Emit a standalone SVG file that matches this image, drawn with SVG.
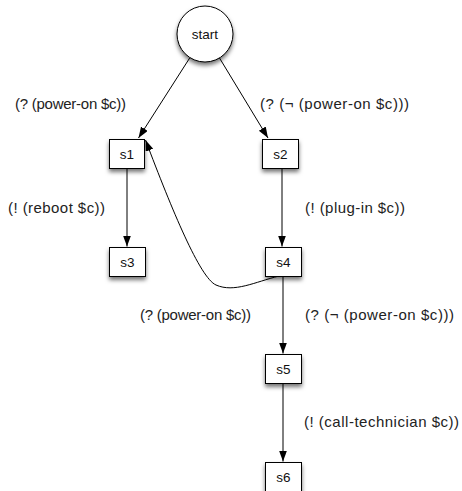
<svg xmlns="http://www.w3.org/2000/svg" width="462" height="491" viewBox="0 0 462 491">
<style>
.node{fill:#fff;stroke:#000;stroke-width:1;filter:url(#sh)}
.nl{font-family:"Liberation Sans",Arial,sans-serif;font-size:13.5px;fill:#111;text-anchor:middle}
.el{font-family:"Liberation Sans",Arial,sans-serif;font-size:15px;fill:#222}
.edge{fill:none;stroke:#000;stroke-width:1;marker-end:url(#ah)}
</style>
<defs>
<filter id="sh" x="-40%" y="-40%" width="180%" height="190%">
<feDropShadow dx="0" dy="3" stdDeviation="2.2" flood-color="#000" flood-opacity="0.55"/>
</filter>
<marker id="ah" markerUnits="userSpaceOnUse" markerWidth="12" markerHeight="10" refX="11" refY="4" orient="auto">
<path d="M0,0 L11,4 L0,8 z" fill="#000"/>
</marker>
</defs>
<rect width="462" height="491" fill="#fff"/>
<g id="connectors">
<line class="edge" x1="190" y1="57.5" x2="138.5" y2="138"/>
<line class="edge" x1="219.5" y1="58" x2="268" y2="138"/>
<line class="edge" x1="127" y1="168" x2="127" y2="246.5"/>
<line class="edge" x1="282" y1="168" x2="282" y2="246.5"/>
<line class="edge" x1="283" y1="276" x2="283" y2="353.5"/>
<line class="edge" x1="283" y1="383" x2="283" y2="461.5"/>
<path class="edge" d="M279,276 C255,282 234,293 216,285 C200,278 172,210 145.5,140"/>
</g>
<g id="start"><circle class="node" cx="205" cy="34" r="28"/><text class="nl" x="205" y="38.5">start</text></g>
<g id="s1"><rect class="node" x="109.5" y="139.5" width="35" height="29"/><text class="nl" x="127" y="158.5">s1</text></g>
<g id="s2"><rect class="node" x="262.5" y="139.5" width="36" height="29"/><text class="nl" x="280.5" y="158.5">s2</text></g>
<g id="s3"><rect class="node" x="109.5" y="247.5" width="36" height="29"/><text class="nl" x="127.5" y="266.5">s3</text></g>
<g id="s4"><rect class="node" x="265.5" y="247.5" width="36" height="29"/><text class="nl" x="283.5" y="266.5">s4</text></g>
<g id="s5"><rect class="node" x="265.5" y="354.5" width="36" height="29"/><text class="nl" x="283.5" y="373.5">s5</text></g>
<g id="s6"><rect class="node" x="265.5" y="462.5" width="36" height="29"/><text class="nl" x="283.5" y="481.5">s6</text></g>
<g id="labels">
<text class="el" x="15" y="109" textLength="111">(? (power-on $c))</text>
<text class="el" x="260" y="109" textLength="149">(? (¬ (power-on $c)))</text>
<text class="el" x="8" y="213" textLength="97">(! (reboot $c))</text>
<text class="el" x="305" y="213" textLength="100">(! (plug-in $c))</text>
<text class="el" x="140" y="320" textLength="111">(? (power-on $c))</text>
<text class="el" x="305" y="320" textLength="149">(? (¬ (power-on $c)))</text>
<text class="el" x="304" y="427" textLength="155">(! (call-technician $c))</text>
</g>
</svg>
